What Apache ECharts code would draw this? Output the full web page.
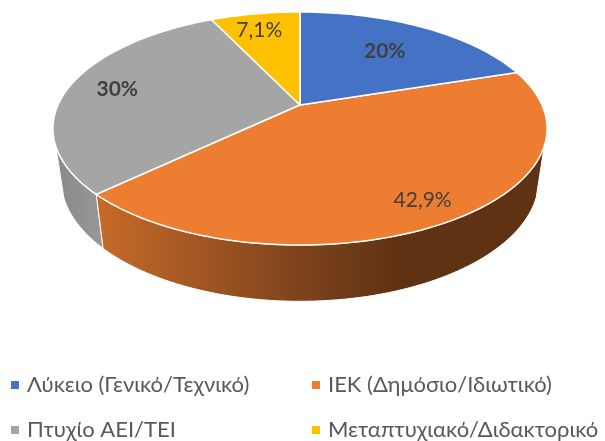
<!DOCTYPE html>
<html>
<head>
<meta charset="utf-8">
<style>html,body{margin:0;padding:0;background:#fff}#c{width:605px;height:441px}</style>
<script src="https://cdn.jsdelivr.net/npm/echarts@6/dist/echarts.min.js"></script>
</head>
<body>
<div id="c"></div>
<script>
const categories = ['Λύκειο (Γενικό/Τεχνικό)', 'ΙΕΚ (Δημόσιο/Ιδιωτικό)', 'Πτυχίο ΑΕΙ/ΤΕΙ', 'Μεταπτυχιακό/Διδακτορικό'];
const values = [20, 42.9, 30, 7.1];
const valueLabels = ['20%', '42,9%', '30%', '7,1%'];
const colors = ['#4472C4', '#ED7D31', '#A5A5A5', '#FFC000'];

const total = values.reduce((a, b) => a + b, 0);
const FONT = 'Lato, "Open Sans", sans-serif';
const top3d = { cx: 300, cy: 105, a: 111.8, b: 242, p: 0.2017 };
const bot3d = { cx: 300, cy: 154.75, a: 117, b: 234, p: 0.2017 };
const toRad = d => d * Math.PI / 180;
function project(pl, deg, r) {
  const u = r * Math.sin(toRad(deg)), v = -r * Math.cos(toRad(deg));
  const d = 1 - pl.p * v;
  return [pl.cx + pl.b * u / d, pl.cy + pl.a * v / d];
}
function arc(pl, a0, a1, r) {
  const n = Math.max(2, Math.ceil(Math.abs(a1 - a0) / 1.5)), pts = [];
  for (let i = 0; i <= n; i++) pts.push(project(pl, a0 + (a1 - a0) * i / n, r));
  return pts;
}
const sideRange = [110, 250];
const labelStyle = [
  { r: 0.66, d: 0, w: 'bold' }, { r: 0.845, d: 0, w: 'normal' },
  { r: 0.79, d: 0, w: 'bold' }, { r: 0.8, d: -1.3, w: 'normal' }
];
const sideFill = [
  null,
  { type: 'linear', x: 0, y: 0, x2: 1, y2: 0, colorStops: [
    { offset: 0, color: '#C76B29' }, { offset: 0.45, color: '#7E431C' }, { offset: 0.68, color: '#5F3213' }, { offset: 1, color: '#5F3213' }] },
  { type: 'linear', x: 0, y: 0, x2: 1, y2: 0, colorStops: [
    { offset: 0, color: '#8A8A8A' }, { offset: 1, color: '#989898' }] },
  null
];

function makeSeries(idx) {
  const start = values.slice(0, idx).reduce((a, b) => a + b, 0) / total * 360;
  return {
    type: 'custom', name: categories[idx], coordinateSystem: 'none',
    itemStyle: { color: colors[idx] }, silent: true,
    data: [[values[idx]]],
    renderItem: (params, api) => {
      const end = start + api.value(0) / total * 360;
      const children = [];
      const s0 = Math.max(start, sideRange[0]), s1 = Math.min(end, sideRange[1]);
      if (sideFill[idx] && s1 > s0) {
        children.push({
          type: 'polygon',
          shape: { points: arc(top3d, s0, s1, 1).concat(arc(bot3d, s1, s0, 1)) },
          style: { fill: sideFill[idx], stroke: '#fff', lineWidth: 1 }
        });
      }
      children.push({
        type: 'polygon',
        shape: { points: [project(top3d, 0, 0)].concat(arc(top3d, start, end, 1)) },
        style: { fill: colors[idx], stroke: '#fff', lineWidth: 1.5, lineJoin: 'round' }
      });
      const ls = labelStyle[idx];
      const c = project(top3d, (start + end) / 2 + ls.d, ls.r);
      children.push({
        type: 'text', x: c[0], y: c[1],
        style: { text: valueLabels[idx], fill: '#404040', font: ls.w + ' 21px ' + FONT, align: 'center', verticalAlign: 'middle' }
      });
      return { type: 'group', children };
    }
  };
}
const legendSpots = [[11, 374], [312, 374], [11, 419], [312, 419]];
const chart = echarts.init(document.getElementById('c'), null, { renderer: 'canvas' });
chart.setOption({
  animation: false,
  backgroundColor: '#fff',
  legend: categories.map((name, i) => ({
    left: legendSpots[i][0], top: legendSpots[i][1], padding: 0,
    itemWidth: 8, itemHeight: 8, itemGap: 0, icon: 'rect', selectedMode: false,
    textStyle: { fontSize: 22, color: '#595959', fontFamily: FONT, padding: [0, 0, 0, 3] },
    data: [name]
  })),
  series: [2, 1, 0, 3].map(makeSeries)
});
</script>
</body>
</html>
